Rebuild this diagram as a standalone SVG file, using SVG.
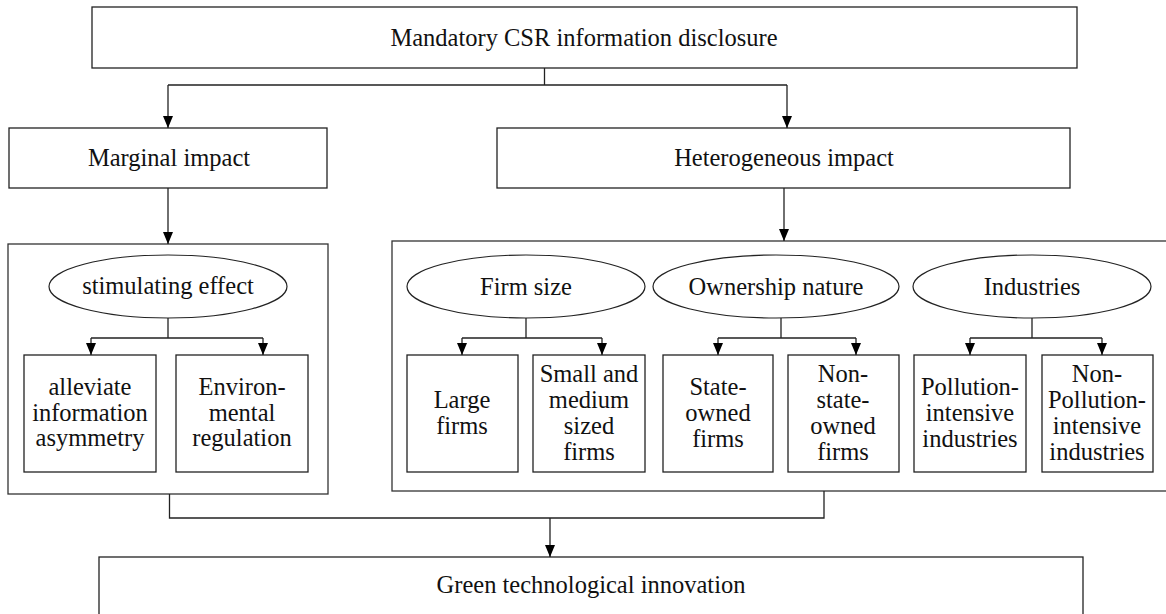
<svg xmlns="http://www.w3.org/2000/svg" width="1166" height="614" viewBox="0 0 1166 614" font-family="'Liberation Serif', 'Times New Roman', serif">
<style>
.box{fill:#fff;stroke:#222;stroke-width:1.3}
.panel{fill:none;stroke:#333;stroke-width:1.3}
.ell{fill:#fff;stroke:#222;stroke-width:1.2}
.ln{fill:none;stroke:#222;stroke-width:1.3}
text{font-family:"Liberation Serif","Times New Roman",serif;font-size:24.5px;fill:#111;text-anchor:middle}
</style>
<defs>
<marker id="ah" viewBox="0 0 12 10" refX="12" refY="5" markerWidth="12" markerHeight="10" markerUnits="userSpaceOnUse" orient="auto">
<path d="M0,0 L12,5 L0,10 z" fill="#000"/>
</marker>
</defs>
<rect width="1166" height="614" fill="#fff"/>

<g id="panel-left"><rect class="panel" x="8" y="244" width="320" height="250"/></g>
<g id="panel-right"><rect class="panel" x="392" y="241" width="790" height="250"/></g>

<g id="n-top"><rect class="box" x="92" y="7" width="985" height="61"/><text x="584" y="46">Mandatory CSR information disclosure</text></g>
<g id="n-marginal"><rect class="box" x="9" y="128" width="318" height="60"/><text x="169" y="166">Marginal impact</text></g>
<g id="n-hetero"><rect class="box" x="497" y="128" width="573" height="60"/><text x="784" y="166">Heterogeneous impact</text></g>

<g id="n-stim"><ellipse class="ell" cx="168" cy="286.5" rx="119" ry="31.5"/><text x="168" y="294">stimulating effect</text></g>
<g id="n-firmsize"><ellipse class="ell" cx="526" cy="286.5" rx="119" ry="31.5"/><text x="526" y="295">Firm size</text></g>
<g id="n-ownership"><ellipse class="ell" cx="776" cy="286.5" rx="123" ry="31.5"/><text x="776" y="295">Ownership nature</text></g>
<g id="n-industries"><ellipse class="ell" cx="1032" cy="286.5" rx="119" ry="31.5"/><text x="1032" y="295">Industries</text></g>

<g id="n-alleviate"><rect class="box" x="24" y="355" width="132" height="117"/><text x="90" y="395">alleviate</text><text x="90" y="421">information</text><text x="90" y="446">asymmetry</text></g>
<g id="n-env"><rect class="box" x="176" y="355" width="132" height="117"/><text x="242" y="395">Environ-</text><text x="242" y="421">mental</text><text x="242" y="446">regulation</text></g>
<g id="n-large"><rect class="box" x="407" y="355" width="111" height="117"/><text x="462" y="408">Large</text><text x="462" y="434">firms</text></g>
<g id="n-small"><rect class="box" x="533" y="355" width="112" height="117"/><text x="589" y="382">Small and</text><text x="589" y="408">medium</text><text x="589" y="434">sized</text><text x="589" y="460">firms</text></g>
<g id="n-state"><rect class="box" x="663" y="355" width="110" height="117"/><text x="718" y="395">State-</text><text x="718" y="421">owned</text><text x="718" y="447">firms</text></g>
<g id="n-nonstate"><rect class="box" x="788" y="355" width="111" height="117"/><text x="843" y="382">Non-</text><text x="843" y="408">state-</text><text x="843" y="434">owned</text><text x="843" y="460">firms</text></g>
<g id="n-poll"><rect class="box" x="914" y="355" width="112" height="117"/><text x="970" y="395">Pollution-</text><text x="970" y="421">intensive</text><text x="970" y="447">industries</text></g>
<g id="n-nonpoll"><rect class="box" x="1042" y="355" width="111" height="117"/><text x="1097" y="382">Non-</text><text x="1097" y="408">Pollution-</text><text x="1097" y="434">intensive</text><text x="1097" y="460">industries</text></g>

<g id="n-green"><rect class="box" x="99" y="557" width="984" height="70"/><text x="591" y="593">Green technological innovation</text></g>

<g id="connectors">
<path class="ln" d="M544.5,68 V85 M168,85 H787"/>
<path class="ln" d="M168,85 V128" marker-end="url(#ah)"/>
<path class="ln" d="M787,85 V128" marker-end="url(#ah)"/>
<path class="ln" d="M168,188 V244" marker-end="url(#ah)"/>
<path class="ln" d="M784,188 V241" marker-end="url(#ah)"/>
<path class="ln" d="M168,318 V338 M91,338 H263"/>
<path class="ln" d="M91,338 V355" marker-end="url(#ah)"/>
<path class="ln" d="M263,338 V355" marker-end="url(#ah)"/>
<path class="ln" d="M526,318 V338 M462,338 H602"/>
<path class="ln" d="M462,338 V355" marker-end="url(#ah)"/>
<path class="ln" d="M602,338 V355" marker-end="url(#ah)"/>
<path class="ln" d="M781,318 V338 M718,338 H856"/>
<path class="ln" d="M718,338 V355" marker-end="url(#ah)"/>
<path class="ln" d="M856,338 V355" marker-end="url(#ah)"/>
<path class="ln" d="M1032,318 V338 M970,338 H1102"/>
<path class="ln" d="M970,338 V355" marker-end="url(#ah)"/>
<path class="ln" d="M1102,338 V355" marker-end="url(#ah)"/>
<path class="ln" d="M169.5,494 V518 H824 V491"/>
<path class="ln" d="M550,518 V557" marker-end="url(#ah)"/>
</g>
</svg>
